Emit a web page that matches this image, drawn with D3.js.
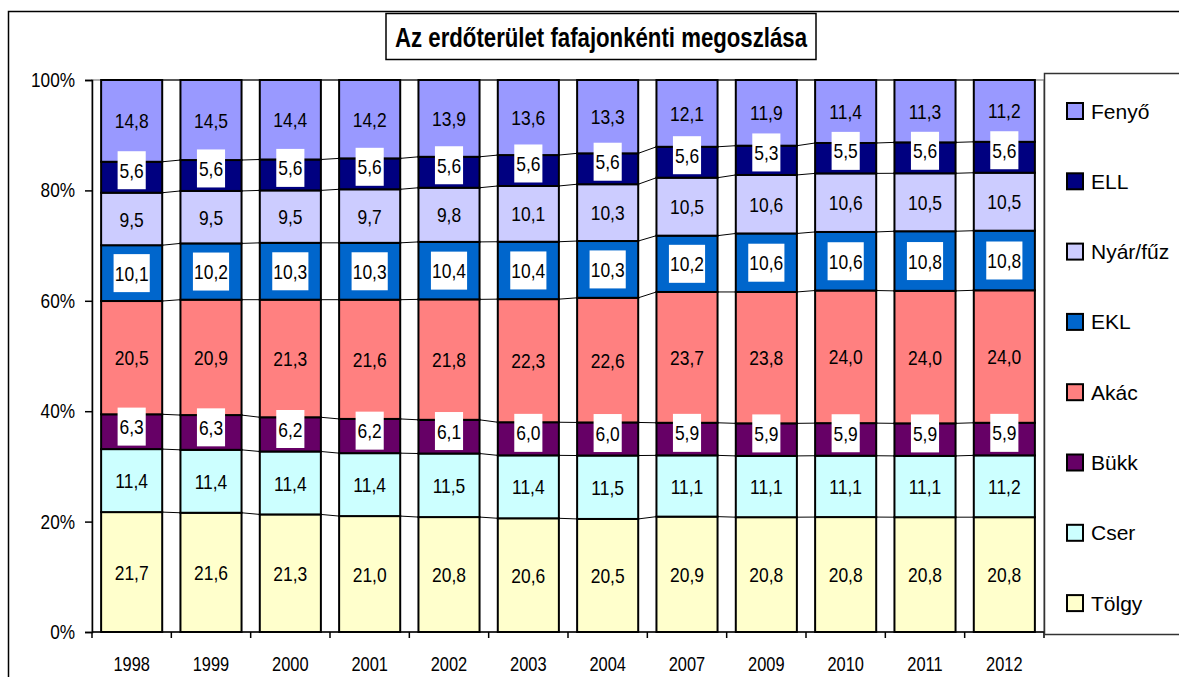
<!DOCTYPE html>
<html>
<head>
<meta charset="utf-8">
<script src="https://cdn.jsdelivr.net/npm/d3@7"></script>
<style>
  body { margin: 0; background: #fff; }
  svg { display: block; font-family: "Liberation Sans", Arial, sans-serif; }
</style>
</head>
<body>
<svg id="chart" width="1179" height="677"></svg>
<script>
//

const years = ['1998', '1999', '2000', '2001', '2002', '2003', '2004', '2007', '2009', '2010', '2011', '2012']

// bottom to top
const seriesNames = ['Tölgy', 'Cser', 'Bükk', 'Akác', 'EKL', 'Nyár/fűz', 'ELL', 'Fenyő']
const seriesColors = ['#FFFFCC', '#CCFFFF', '#660066', '#FF8080', '#0066CC', '#CCCCFF', '#000080', '#9999FF']
const boxedSeries = ['Bükk', 'EKL', 'ELL']

const tolgy = [21.7, 21.6, 21.3, 21.0, 20.8, 20.6, 20.5, 20.9, 20.8, 20.8, 20.8, 20.8]
const cser = [11.4, 11.4, 11.4, 11.4, 11.5, 11.4, 11.5, 11.1, 11.1, 11.1, 11.1, 11.2]
const bukk = [6.3, 6.3, 6.2, 6.2, 6.1, 6.0, 6.0, 5.9, 5.9, 5.9, 5.9, 5.9]
const akac = [20.5, 20.9, 21.3, 21.6, 21.8, 22.3, 22.6, 23.7, 23.8, 24.0, 24.0, 24.0]
const ekl = [10.1, 10.2, 10.3, 10.3, 10.4, 10.4, 10.3, 10.2, 10.6, 10.6, 10.8, 10.8]
const nyarfuz = [9.5, 9.5, 9.5, 9.7, 9.8, 10.1, 10.3, 10.5, 10.6, 10.6, 10.5, 10.5]
const ell = [5.6, 5.6, 5.6, 5.6, 5.6, 5.6, 5.6, 5.6, 5.3, 5.5, 5.6, 5.6]
const fenyo = [14.8, 14.5, 14.4, 14.2, 13.9, 13.6, 13.3, 12.1, 11.9, 11.4, 11.3, 11.2]

const yTicks = [0, 0.2, 0.4, 0.6, 0.8, 1]
const title = 'Az erdőterület fafajonkénti megoszlása'

//

const seriesValues = [tolgy, cser, bukk, akac, ekl, nyarfuz, ell, fenyo]

const rows = years.map((year, i) => {
  const row = {year}
  seriesNames.forEach((name, k) => { row[name] = seriesValues[k][i] })
  return row
})

const stacked = d3.stack()
  .keys(seriesNames)
  .offset(d3.stackOffsetExpand)(rows)

const svg = d3.select('#chart')

const margin = {left: 92, right: 1044, top: 80, bottom: 632}

const x = d3.scaleBand()
  .domain(years)
  .range([margin.left, margin.right])
  .paddingInner(0.23)
  .paddingOuter(0.115)

const y = d3.scaleLinear()
  .domain([0, 1])
  .range([margin.bottom, margin.top])

const fmt = (v) => v.toFixed(1).replace('.', ',')

// squeeze text horizontally like the original rendering
const squeeze = (sel, k) => sel.each(function () {
  const len = this.getComputedTextLength()
  d3.select(this).attr('textLength', len * k).attr('lengthAdjust', 'spacingAndGlyphs')
})

//

// chart border
svg.append('rect')
  .attr('x', 8.5).attr('y', 11.5)
  .attr('width', 1300).attr('height', 800)
  .attr('fill', '#fff')
  .attr('stroke', '#000')
  .attr('stroke-width', 1.5)

// plot area border
svg.append('rect')
  .attr('x', margin.left).attr('y', margin.top)
  .attr('width', margin.right - margin.left)
  .attr('height', margin.bottom - margin.top)
  .attr('fill', 'none')
  .attr('stroke', '#999')
  .attr('stroke-width', 1.5)

// series lines
const linesGroup = svg.append('g')
stacked.forEach((layer) => {
  for (let i = 0; i < years.length - 1; i++) {
    linesGroup.append('line')
      .attr('x1', x(years[i]) + x.bandwidth())
      .attr('x2', x(years[i + 1]))
      .attr('y1', y(layer[i][1]))
      .attr('y2', y(layer[i + 1][1]))
      .attr('stroke', '#000')
      .attr('stroke-width', 1)
  }
})

// bars
const layers = svg.append('g')
  .selectAll('g')
  .data(stacked)
  .join('g')
  .attr('fill', (d, i) => seriesColors[i])

layers.selectAll('rect')
  .data((d) => d)
  .join('rect')
  .attr('x', (d) => x(d.data.year))
  .attr('y', (d) => y(d[1]))
  .attr('width', x.bandwidth())
  .attr('height', (d) => y(d[0]) - y(d[1]))
  .attr('stroke', '#000')
  .attr('stroke-width', 2)

// data labels
const labelGroup = svg.append('g')
stacked.forEach((layer) => {
  const name = layer.key
  const boxed = boxedSeries.includes(name)
  layer.forEach((d) => {
    const top = y(d[1])
    const bottom = y(d[0])
    let cy = (top + bottom) / 2
    if (boxed) cy = Math.min(cy, bottom - 3.5 - 19)
    const cx = x(d.data.year) + x.bandwidth() / 2
    const g = labelGroup.append('g')
    const t = g.append('text')
      .attr('x', cx)
      .attr('y', cy)
      .attr('dy', '0.36em')
      .attr('text-anchor', 'middle')
      .attr('font-size', 21)
      .attr('fill', '#000')
      .text(fmt(d.data[name]))
    squeeze(t, 0.83)
    if (boxed) {
      const w = t.node().getComputedTextLength() * 0.83 + 8
      g.insert('rect', 'text')
        .attr('x', cx - w / 2)
        .attr('y', cy - 19)
        .attr('width', w)
        .attr('height', 38)
        .attr('fill', '#fff')
    }
  })
})

// y axis
const yAxis = svg.append('g')
  .attr('transform', `translate(${margin.left},0)`)
  .call(d3.axisLeft(y).tickValues(yTicks).tickFormat(d3.format('.0%')).tickSize(7).tickPadding(10))
yAxis.select('.domain').attr('stroke', '#000').attr('stroke-width', 1.5)
yAxis.selectAll('.tick line').attr('stroke', '#000').attr('stroke-width', 1.5)
yAxis.selectAll('text')
  .attr('font-size', 20)
  .attr('font-family', '"Liberation Sans", Arial, sans-serif')
  .attr('fill', '#000')
  .call(squeeze, 0.86)

// x axis
const xAxis = svg.append('g')
  .attr('transform', `translate(0,${margin.bottom})`)
xAxis.append('line')
  .attr('x1', margin.left).attr('x2', margin.right)
  .attr('stroke', '#000').attr('stroke-width', 1.5)
xAxis.selectAll('.tk')
  .data(d3.range(years.length + 1))
  .join('line')
  .attr('class', 'tk')
  .attr('x1', (i) => margin.left + i * x.step())
  .attr('x2', (i) => margin.left + i * x.step())
  .attr('y1', 0).attr('y2', 6)
  .attr('stroke', '#000').attr('stroke-width', 1.5)
xAxis.selectAll('text')
  .data(years)
  .join('text')
  .attr('x', (d) => x(d) + x.bandwidth() / 2)
  .attr('y', 32)
  .attr('dy', '0.36em')
  .attr('text-anchor', 'middle')
  .attr('font-size', 20)
  .text((d) => d)
  .call(squeeze, 0.82)

// title
svg.append('rect')
  .attr('x', 386).attr('y', 13.5)
  .attr('width', 430).attr('height', 46)
  .attr('fill', '#fff')
  .attr('stroke', '#000')
  .attr('stroke-width', 1.5)
svg.append('text')
  .attr('x', 601)
  .attr('y', 37)
  .attr('dy', '0.36em')
  .attr('text-anchor', 'middle')
  .attr('font-size', 28)
  .attr('font-weight', 'bold')
  .attr('textLength', 412)
  .attr('lengthAdjust', 'spacingAndGlyphs')
  .text(title)

// legend
svg.append('rect')
  .attr('x', 1044.5).attr('y', 73.5)
  .attr('width', 200).attr('height', 561)
  .attr('fill', '#fff')
  .attr('stroke', '#333')
  .attr('stroke-width', 1.5)

const legendOrder = seriesNames.slice().reverse()
const legendColors = seriesColors.slice().reverse()
const legend = svg.append('g')
  .selectAll('g')
  .data(legendOrder)
  .join('g')
  .attr('transform', (d, i) => `translate(1067,${111 + i * 70.3})`)

legend.append('rect')
  .attr('x', 0).attr('y', -8)
  .attr('width', 16).attr('height', 16)
  .attr('fill', (d, i) => legendColors[i])
  .attr('stroke', '#000')
  .attr('stroke-width', 2)

legend.append('text')
  .attr('x', 24)
  .attr('y', 0)
  .attr('dy', '0.36em')
  .attr('font-size', 21)
  .text((d) => d)
</script>
</body>
</html>
